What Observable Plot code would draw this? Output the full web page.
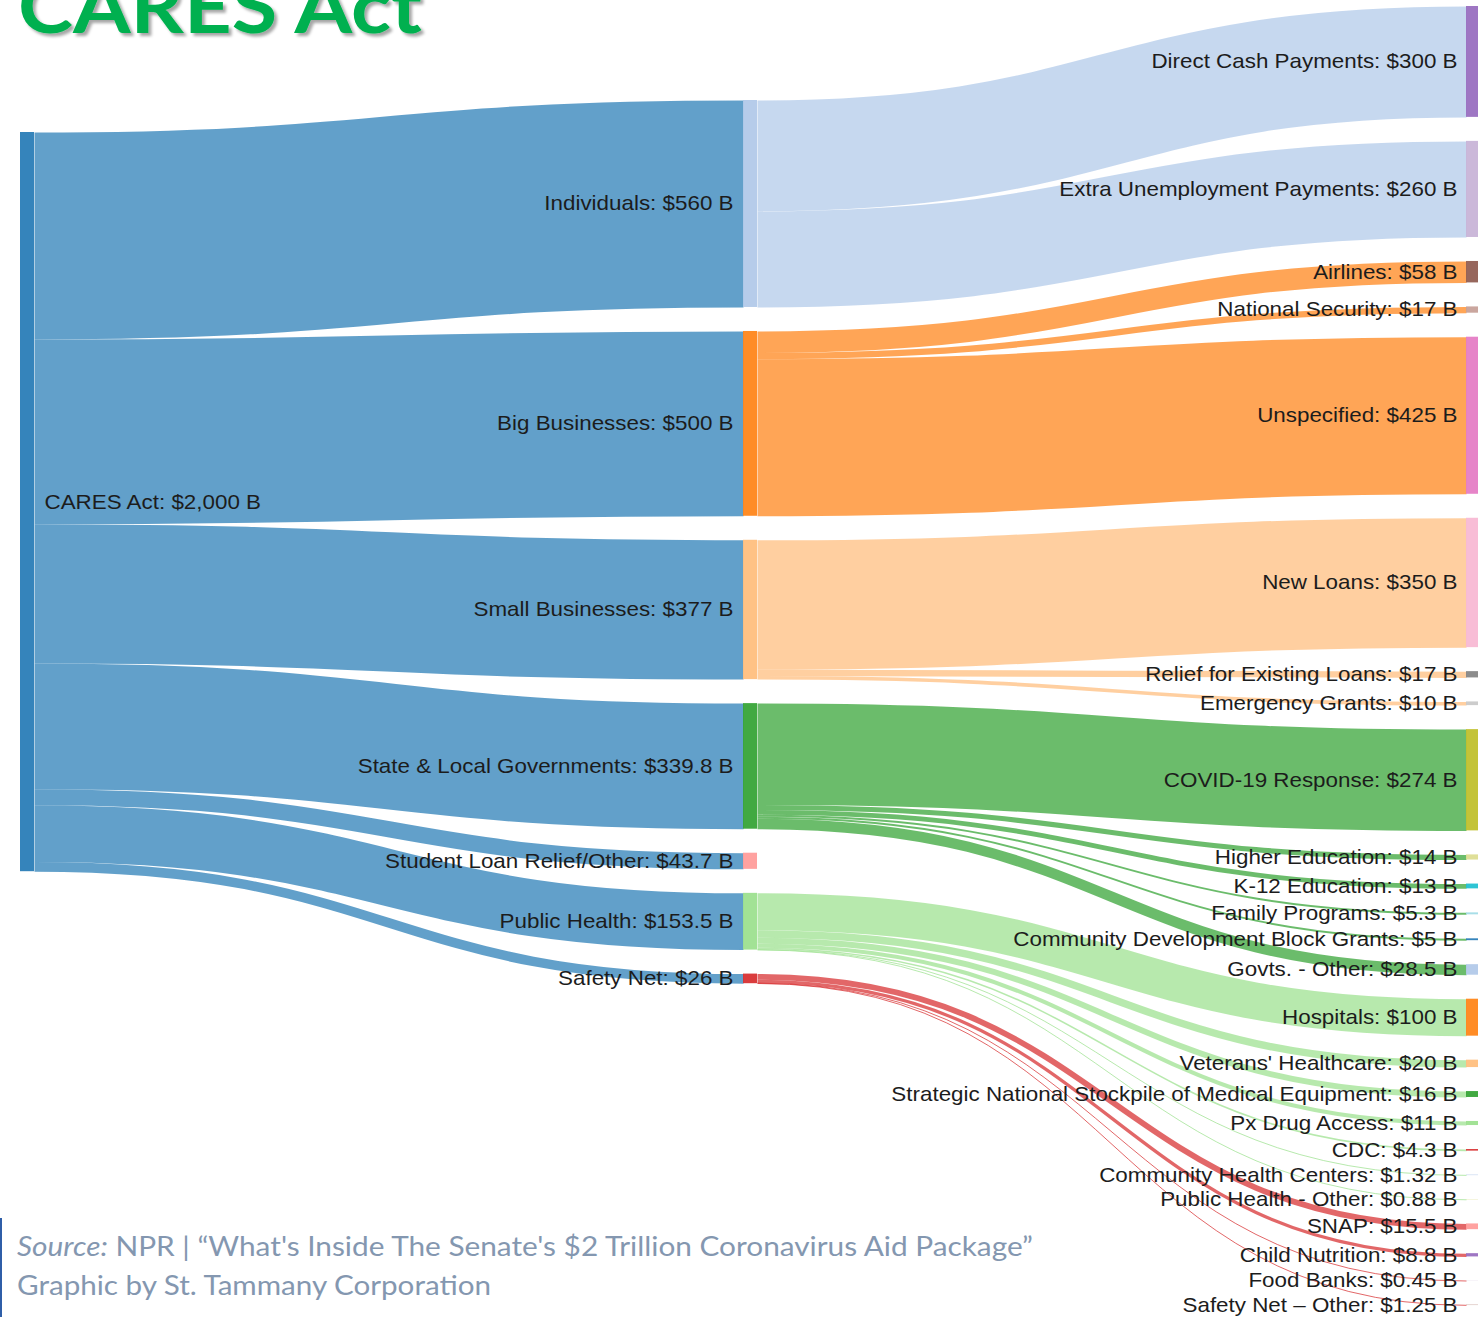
<!DOCTYPE html>
<html>
<head>
<meta charset="utf-8">
<script src="https://cdn.jsdelivr.net/npm/d3@7"></script>
<script src="https://cdn.jsdelivr.net/npm/@observablehq/plot@0.6"></script>
<style>
  html, body { margin: 0; padding: 0; background: #fff; }
  #wrap { position: relative; width: 1478px; height: 1317px; overflow: hidden; }
  #wrap > svg { display: block; }
  #overlay { position: absolute; left: 0; top: 0; pointer-events: none; }
</style>
</head>
<body>
<div id="wrap"></div>
<script>
// ---------------- DATA ----------------
const rootName = "CARES Act";
const rootValue = 2000;

const categories = [
  "Individuals", "Big Businesses", "Small Businesses", "State & Local Governments",
  "Student Loan Relief/Other", "Public Health", "Safety Net"
];
const categoryValues = [560, 500, 377, 339.8, 43.7, 153.5, 26];

const items = [
  "Direct Cash Payments", "Extra Unemployment Payments",
  "Airlines", "National Security", "Unspecified",
  "New Loans", "Relief for Existing Loans", "Emergency Grants",
  "COVID-19 Response", "Higher Education", "K-12 Education", "Family Programs",
  "Community Development Block Grants", "Govts. - Other",
  "Hospitals", "Veterans' Healthcare", "Strategic National Stockpile of Medical Equipment",
  "Px Drug Access", "CDC", "Community Health Centers", "Public Health - Other",
  "SNAP", "Child Nutrition", "Food Banks", "Safety Net – Other"
];
const itemValues = [
  300, 260,
  58, 17, 425,
  350, 17, 10,
  274, 14, 13, 5.3, 5, 28.5,
  100, 20, 16, 11, 4.3, 1.32, 0.88,
  15.5, 8.8, 0.45, 1.25
];
const itemCategory = [
  "Individuals", "Individuals",
  "Big Businesses", "Big Businesses", "Big Businesses",
  "Small Businesses", "Small Businesses", "Small Businesses",
  "State & Local Governments", "State & Local Governments", "State & Local Governments",
  "State & Local Governments", "State & Local Governments", "State & Local Governments",
  "Public Health", "Public Health", "Public Health", "Public Health", "Public Health",
  "Public Health", "Public Health",
  "Safety Net", "Safety Net", "Safety Net", "Safety Net"
];

const titleText = "CARES Act";
const captionSourceLabel = "Source:";
const captionSourceText = " NPR | “What's Inside The Senate's $2 Trillion Coronavirus Aid Package”";
const captionCredit = "Graphic by St. Tammany Corporation";

// ---------------- STYLE / LAYOUT ----------------
const rootColor = "#1f77b4";
const categoryColors = ["#aec7e8", "#ff7f0e", "#ffbb78", "#2ca02c", "#ff9896", "#98df8a", "#d62728"];
const itemColors = [
  "#9467bd", "#c5b0d5", "#8c564b", "#c49c94", "#e377c2", "#f7b6d2", "#7f7f7f", "#c7c7c7",
  "#bcbd22", "#dbdb8d", "#17becf", "#9edae5", "#1f77b4", "#aec7e8",
  "#ff7f0e", "#ffbb78", "#2ca02c", "#98df8a", "#d62728", "#aec7e8", "#dbdb8d",
  "#ff9896", "#9467bd", "#c5b0d5", "#c49c94"
];

const W = 1478, H = 1317;
const ky = 739.2 / 2000;          // pixels per $B
const padPx = 24;                 // gap between nodes
const colTopPx = [132, 100, 6];   // top of each column
const colLeftPx = [20, 743, 1466];
const nodeWpx = 14;
const colStepPx = colLeftPx[1] - colLeftPx[0];
const nodeW = nodeWpx / colStepPx; // in column units
const pad = padPx / ky;            // in $B units
const topUnits = c => (colTopPx[c] - colTopPx[2]) / ky;
const fmt = d3.format(",");
const label = (n, v) => `${n}: $${fmt(v)} B`;

// ---------------- SANKEY LAYOUT (in data units) ----------------
const rootNode = { name: rootName, value: rootValue, col: 0, color: rootColor, y0: topUnits(0) };
rootNode.y1 = rootNode.y0 + rootValue;

const catNodes = [];
let yc = topUnits(1);
categories.forEach((name, i) => {
  const n = { name, value: categoryValues[i], col: 1, color: categoryColors[i], y0: yc };
  n.y1 = yc + n.value;
  yc = n.y1 + pad;
  catNodes.push(n);
});

const itemNodes = [];
let yi = topUnits(2);
items.forEach((name, i) => {
  const n = { name, value: itemValues[i], col: 2, color: itemColors[i], parent: itemCategory[i], y0: yi };
  n.y1 = yi + n.value;
  yi = n.y1 + pad;
  itemNodes.push(n);
});

const allNodes = [rootNode, ...catNodes, ...itemNodes];
allNodes.forEach(n => { n.x0 = n.col; n.x1 = n.col + nodeW; n.label = label(n.name, n.value); });

const links = [];
let sy = rootNode.y0;
catNodes.forEach(c => {
  links.push({ x1: rootNode.x1, x2: c.x0, y1: sy + c.value / 2, y2: c.y0 + c.value / 2, value: c.value, color: rootColor });
  sy += c.value;
});
catNodes.forEach(c => {
  let s = c.y0;
  itemNodes.filter(it => it.parent === c.name).forEach(it => {
    links.push({ x1: c.x1, x2: it.x0, y1: s + it.value / 2, y2: it.y0 + it.value / 2, value: it.value, color: c.color });
    s += it.value;
  });
});

// ---------------- PLOT ----------------
const font = "'Liberation Sans', Arial, Helvetica, sans-serif";
const textCommon = {
  y: d => (d.y0 + d.y1) / 2,
  text: "label",
  fontSize: 20,
  fontFamily: font,
  fill: "#1c1c1c"
};

const chart = Plot.plot({
  width: W,
  height: H,
  margin: 0,
  x: { domain: [0, 2], range: [colLeftPx[0], colLeftPx[2]], axis: null },
  y: { domain: [-colTopPx[2] / ky, (H - colTopPx[2]) / ky], range: [0, H], axis: null },
  color: { type: "identity" },
  style: { background: "transparent", overflow: "hidden" },
  marks: [
    Plot.link(links, {
      x1: "x1", y1: "y1", x2: "x2", y2: "y2",
      stroke: "color", strokeOpacity: 0.7,
      strokeWidth: d => Math.max(1, d.value * ky),
      curve: "bump-x"
    }),
    Plot.rect(allNodes, { x1: "x0", x2: "x1", y1: "y0", y2: "y1", fill: "color", fillOpacity: 0.9 }),
    Plot.text([rootNode], { ...textCommon, x: "x1", textAnchor: "start", dx: 10 }),
    Plot.text(catNodes, { ...textCommon, x: "x0", textAnchor: "end", dx: -10 }),
    Plot.text(itemNodes, { ...textCommon, x: "x0", textAnchor: "end", dx: -9 })
  ]
});

// horizontal stretch of the labels (the reference glyphs are wider than tall)
const stretch = 1.12;
chart.querySelectorAll('g[aria-label="text"] text').forEach(t => {
  const tr = t.getAttribute("transform");
  if (tr) {
    t.setAttribute("transform", tr + ` scale(${stretch},1)`);
  } else {
    const x = +(t.getAttribute("x") || 0);
    t.setAttribute("transform", `translate(${x},0) scale(${stretch},1) translate(${-x},0)`);
  }
});

const wrap = document.getElementById("wrap");
wrap.appendChild(chart);

// ---------------- TITLE & CAPTION OVERLAY ----------------
const NS = "http://www.w3.org/2000/svg";
const ov = document.createElementNS(NS, "svg");
ov.setAttribute("id", "overlay");
ov.setAttribute("width", W);
ov.setAttribute("height", H);
ov.innerHTML = `
  <defs>
    <filter id="shadow" x="-10%" y="-10%" width="130%" height="150%">
      <feDropShadow dx="3" dy="3" stdDeviation="1.8" flood-color="#000" flood-opacity="0.35"/>
    </filter>
  </defs>
`;
const title = document.createElementNS(NS, "text");
title.setAttribute("x", 18);
title.setAttribute("y", 33);
title.setAttribute("font-family", "Lato, 'Open Sans', sans-serif");
title.setAttribute("font-weight", "bold");
title.setAttribute("font-size", 75);
title.setAttribute("fill", "#00b050");
title.setAttribute("filter", "url(#shadow)");
title.setAttribute("textLength", 404);
title.setAttribute("lengthAdjust", "spacingAndGlyphs");
title.textContent = titleText;
ov.appendChild(title);

const bar = document.createElementNS(NS, "rect");
bar.setAttribute("x", 0); bar.setAttribute("y", 1218);
bar.setAttribute("width", 2); bar.setAttribute("height", 99);
bar.setAttribute("fill", "#2f5ea8");
ov.appendChild(bar);

const cap1 = document.createElementNS(NS, "text");
cap1.setAttribute("x", 17);
cap1.setAttribute("y", 1256);
cap1.setAttribute("font-family", "Lato, 'Open Sans', sans-serif");
cap1.setAttribute("font-size", 27);
cap1.setAttribute("fill", "#8497b0");
cap1.setAttribute("textLength", 1016);
cap1.setAttribute("lengthAdjust", "spacingAndGlyphs");
const ts1 = document.createElementNS(NS, "tspan");
ts1.setAttribute("font-style", "italic");
ts1.textContent = captionSourceLabel;
const ts2 = document.createElementNS(NS, "tspan");
ts2.textContent = captionSourceText;
cap1.appendChild(ts1); cap1.appendChild(ts2);
ov.appendChild(cap1);

const cap2 = document.createElementNS(NS, "text");
cap2.setAttribute("x", 17);
cap2.setAttribute("y", 1295);
cap2.setAttribute("font-family", "Lato, 'Open Sans', sans-serif");
cap2.setAttribute("font-size", 27);
cap2.setAttribute("fill", "#8497b0");
cap2.setAttribute("textLength", 474);
cap2.setAttribute("lengthAdjust", "spacingAndGlyphs");
cap2.textContent = captionCredit;
ov.appendChild(cap2);

wrap.appendChild(ov);
</script>
</body>
</html>
